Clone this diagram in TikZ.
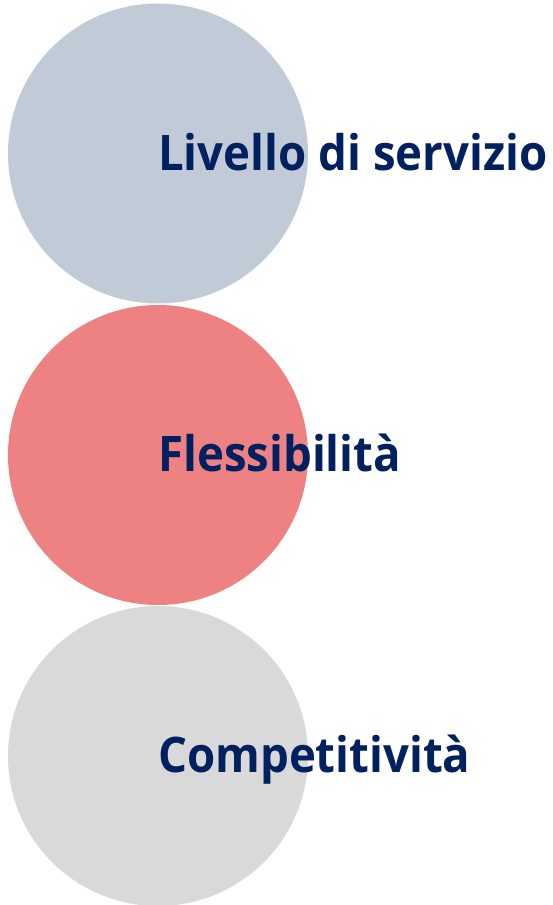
\documentclass[tikz,border=0pt]{standalone}
\usepackage{fontspec}
\setmainfont{Open Sans}[FakeStretch=0.93]
\usetikzlibrary{positioning}
\definecolor{grigioblu}{HTML}{C1CBD8}
\definecolor{salmone}{HTML}{EE8282}
\definecolor{grigio}{HTML}{D9D9D9}
\definecolor{blunotte}{HTML}{002060}
\begin{document}
\begin{tikzpicture}[x=1pt,y=-1pt, line join=round,
	cerchio/.style={circle, minimum size=300pt, inner sep=0pt, draw=none},
	voce/.style={font=\fontsize{49}{49}\selectfont\bfseries, text=blunotte, inner sep=0pt, anchor=base west}]
	\useasboundingbox (0,0) rectangle (552,905);
	% tre cerchi
	\node[cerchio, fill=grigioblu] (c1) at (158,153.5) {};
	\node[cerchio, fill=salmone] (c2) at (158,455) {};
	\node[cerchio, fill=grigio] (c3) at (158,756) {};
	% etichette
	\node[voce] (livello) at ([xshift=0pt,yshift=-16.5pt]c1.center) {Livello di servizio};
	\node[voce] (flessi) at ([xshift=0pt,yshift=-16.5pt]c2.center) {Flessibilità};
	\node[voce] (compet) at ([xshift=0pt,yshift=-16pt]c3.center) {Competitività};
\end{tikzpicture}
\end{document}
